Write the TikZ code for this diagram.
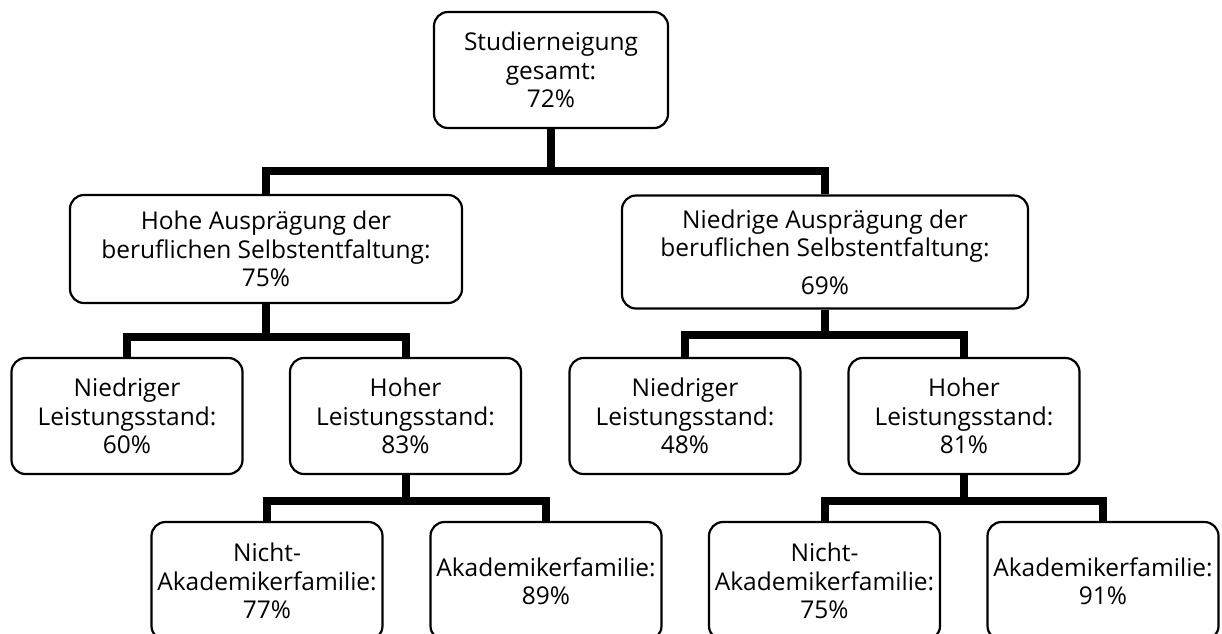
\documentclass[tikz,border=0pt]{standalone}
\usepackage{fontspec}
\setmainfont{Open Sans}
\usepackage{tikz}

\begin{document}
\begin{tikzpicture}[
  x=1pt, y=1pt,
  box/.style={rectangle, rounded corners=14pt, draw, line width=2.2pt,
              font=\fontsize{24.5}{28.5}\selectfont, align=center,
              minimum width=231pt, minimum height=116pt, inner sep=2pt},
  sebox/.style={box, minimum height=108pt},
  conn/.style={line width=8pt},
]
\useasboundingbox (0,0) rectangle (1222,-633);

\node[box, minimum width=234pt] (gesamt) at (551,-70) {Studierneigung\\gesamt:\\72\%};

\node[sebox, minimum width=392pt] (hoheSE) at (266,-249) {Hohe Ausprägung der\\beruflichen Selbstentfaltung:\\75\%};
\node[sebox, minimum width=406pt, minimum height=113pt] (niedSE) at (825,-252) {Niedrige Ausprägung der\\beruflichen Selbstentfaltung:\\[9pt]69\%};

\node[box] (hoheNL) at (127,-416) {Niedriger\\Leistungsstand:\\60\%};
\node[box] (hoheHL) at (405.5,-416) {Hoher\\Leistungsstand:\\83\%};
\node[box] (niedNL) at (685,-416) {Niedriger\\Leistungsstand:\\48\%};
\node[box] (niedHL) at (964,-416) {Hoher\\Leistungsstand:\\81\%};

\node[box, minimum height=118pt] (hoheNA) at (267,-581) {Nicht-\\Akademikerfamilie:\\77\%};
\node[box, minimum height=118pt] (hoheAK) at (546,-581) {Akademikerfamilie:\\89\%};
\node[box, minimum height=118pt] (niedNA) at (824.5,-581) {Nicht-\\Akademikerfamilie:\\75\%};
\node[box, minimum height=118pt] (niedAK) at (1103,-581) {Akademikerfamilie:\\91\%};

% connectors
\draw[conn] (gesamt.south) -- ++(0,-42) -| (hoheSE.north);
\draw[conn] (gesamt.south) -- ++(0,-42) -| (niedSE.north);
\draw[conn] (hoheSE.south) -- ++(0,-33) -| (hoheNL.north);
\draw[conn] (hoheSE.south) -- ++(0,-33) -| (hoheHL.north);
\draw[conn] (niedSE.south) -- ++(0,-25) -| (niedNL.north);
\draw[conn] (niedSE.south) -- ++(0,-25) -| (niedHL.north);
\draw[conn] (hoheHL.south) -- ++(0,-26) -| (hoheNA.north);
\draw[conn] (hoheHL.south) -- ++(0,-26) -| (hoheAK.north);
\draw[conn] (niedHL.south) -- ++(0,-26) -| (niedNA.north);
\draw[conn] (niedHL.south) -- ++(0,-26) -| (niedAK.north);

\end{tikzpicture}
\end{document}
